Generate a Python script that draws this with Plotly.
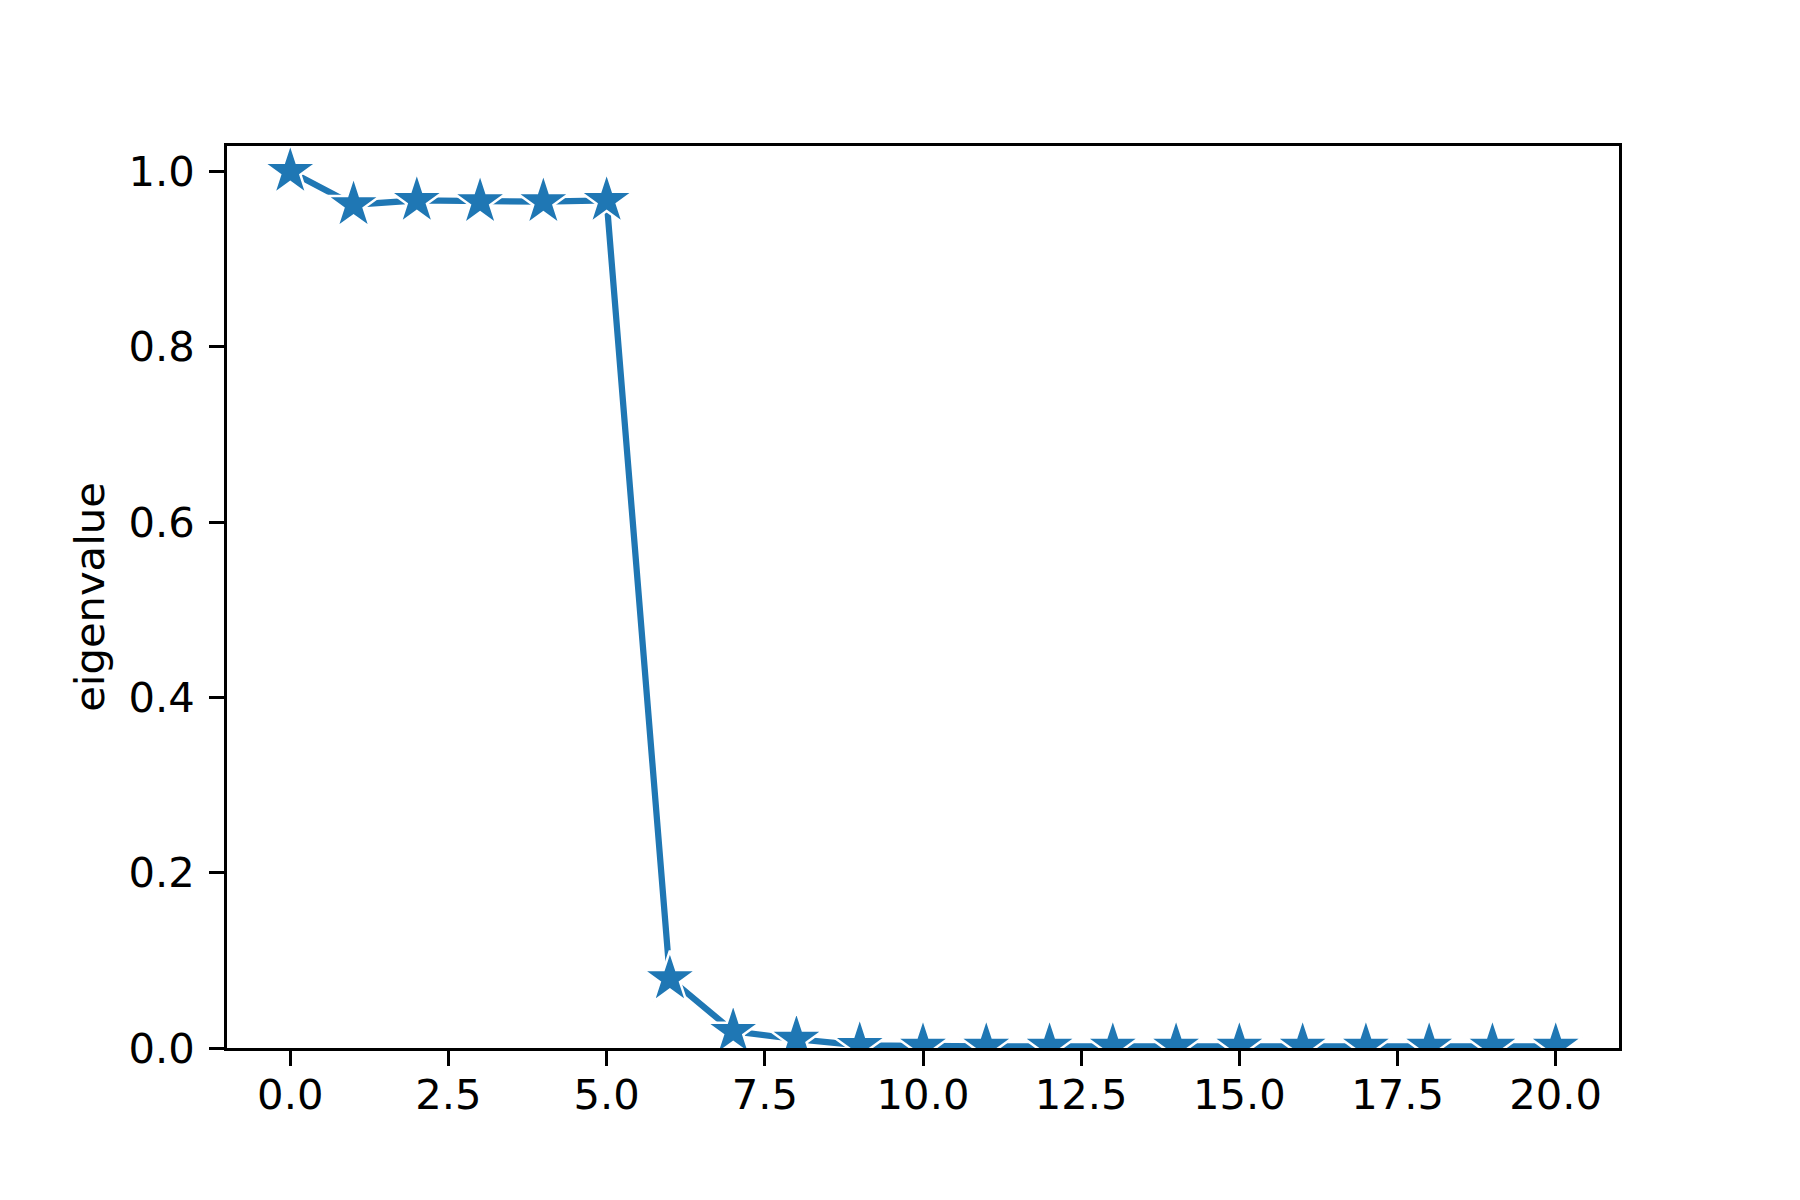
import plotly.graph_objects as go

index = list(range(21))
eigenvalues = [1.0, 0.962, 0.967, 0.9655, 0.9655, 0.967, 0.079, 0.019, 0.010,
               0.003, 0.002, 0.002, 0.002, 0.002, 0.002, 0.002, 0.002, 0.002,
               0.002, 0.002, 0.002]
x_ticks = [0, 2.5, 5, 7.5, 10, 12.5, 15, 17.5, 20]
y_ticks = [0, 0.2, 0.4, 0.6, 0.8, 1.0]

blue = "#1f77b4"
font = dict(family="DejaVu Sans", size=41.7, color="black")

fig = go.Figure()
fig.add_trace(go.Scatter(
    x=index, y=eigenvalues, mode="lines+markers",
    line=dict(color=blue, width=6.25),
    marker=dict(symbol="star", size=40, color=blue,
                line=dict(color="white", width=2.5)),
    cliponaxis=True, showlegend=False,
))

axis_common = dict(
    showline=True, linecolor="black", linewidth=3.3, mirror=True,
    ticks="outside", ticklen=14.6, tickwidth=3.3, tickcolor="black",
    showgrid=False, zeroline=False, tickfont=font, tickformat=".1f",
)
fig.update_xaxes(range=[-1, 21], tickvals=x_ticks, ticklabelstandoff=-7,
                 **axis_common)
fig.update_yaxes(range=[0, 1.029], tickvals=y_ticks, ticklabelstandoff=6,
                 title=dict(text="eigenvalue", font=font, standoff=12),
                 **axis_common)

fig.update_layout(
    width=1800, height=1200,
    margin=dict(l=219, r=189, t=138, b=160),
    plot_bgcolor="white", paper_bgcolor="white",
    font=font,
)
fig.write_html("out.html")
